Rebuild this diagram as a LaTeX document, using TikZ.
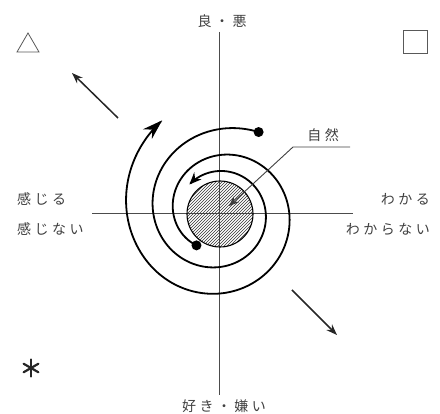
\documentclass[tikz,border=0pt]{standalone}
\usepackage{fontspec}
\newfontfamily\jp[LetterSpace=25]{Noto Sans CJK JP}
\usetikzlibrary{arrows.meta,calc}
\begin{document}
\begin{tikzpicture}[x=1pt,y=-1pt,
  declare function={ro(\t)=40+0.125*\t+0.0012*(max(0,\t-380))^2;
                    ri(\t)=84-39*((\t-90)/180)+9*((\t-90)/180)^2;},
  axisline/.style={draw=black!70, line width=0.9pt},
  spiralline/.style={draw=black, line width=1.8pt},
  lbl/.style={font=\jp\fontsize{14}{14}\selectfont, text=black!75, inner sep=0pt},
  outarrow/.style={draw=black!85, line width=1.5pt, -{Stealth[length=11pt,width=8pt]}},
  pointer/.style={draw=black!75, line width=0.9pt, -{Stealth[length=10pt,width=8pt]}},
  dotmark/.style={fill=black},
  symline/.style={draw=black!65, line width=0.8pt}
]
\useasboundingbox (0,0) rectangle (440,414);

% axes
\coordinate (top) at (219,32);
\coordinate (bot) at (219,395);
\coordinate (lft) at (92,213);
\coordinate (rgt) at (353,213);
\draw[axisline] (top) -- (bot);
\draw[axisline] (lft) -- (rgt);

% hatched core
\coordinate (core) at (220,214);
\begin{scope}
  \clip (core) circle[radius=33pt];
  \foreach \k in {-66,-63,...,66}
    \draw[black!80, line width=0.6pt] ($(core)+(\k-40,40)$) -- ($(core)+(\k+40,-40)$);
\end{scope}
\draw[black, line width=1.1pt] (core) circle[radius=33pt];

% outward spiral (clockwise)
\coordinate (os) at ({220+ro(0)*cos(234)},{213-ro(0)*sin(234)});
\draw[spiralline, -{Stealth[length=20pt,width=13pt]}]
  plot[variable=\t, domain=0:472, samples=220, smooth]
  ({220+ro(\t)*cos(234-\t)},{213-ro(\t)*sin(234-\t)});
\fill[dotmark] (os) circle[radius=5pt];

% inward spiral (counter-clockwise)
\coordinate (is) at ({220+ri(64.5)*cos(64.5)},{213-ri(64.5)*sin(64.5)});
\draw[spiralline, -{Stealth[length=12pt,width=10pt]}]
  plot[variable=\t, domain=64.5:497, samples=220, smooth]
  ({220+ri(\t)*cos(\t)},{213-ri(\t)*sin(\t)});
\fill[dotmark] (is) circle[radius=5pt];

% pointer for 自然
\node[lbl] (nat) at (323,135) {自然};
\coordinate (pe) at (350,147);
\coordinate (pk) at (293,147);
\coordinate (pt) at (229,206);
\draw[pointer] (pe) -- (pk) -- (pt);

% outer arrows
\coordinate (a1s) at (118,118);
\coordinate (a1e) at (72,73);
\coordinate (a2s) at (292,290);
\coordinate (a2e) at (337,335);
\draw[outarrow] (a1s) -- (a1e);
\draw[outarrow] (a2s) -- (a2e);

% labels
\node[lbl] (good) at (222,21) {良・悪};
\node[lbl] (like) at (224,406) {好き・嫌い};
\node[lbl, anchor=west] (feel) at (17,199) {感じる};
\node[lbl, anchor=west] (nofeel) at (17,229) {感じない};
\node[lbl, anchor=east] (know) at (430,199) {わかる};
\node[lbl, anchor=east] (noknow) at (430,229) {わからない};

% corner symbols
\draw[symline] (17,52) -- (39,52) -- (28,33) -- cycle;
\draw[symline] (403.5,30) rectangle (427.5,53);
\coordinate (ast) at (31,368);
\foreach \a in {90,30,150}
  \draw[black!85, line width=2.2pt, line cap=round] ($(ast)+(\a:8.5)$) -- ($(ast)+(\a+180:8.5)$);
\end{tikzpicture}
\end{document}
